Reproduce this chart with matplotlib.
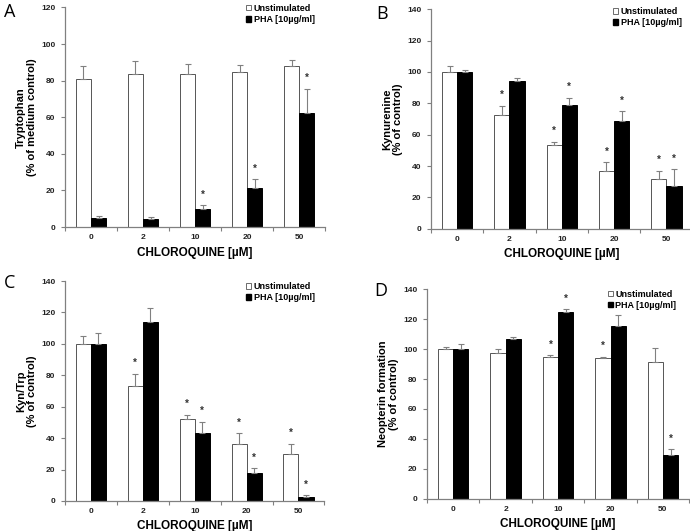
import matplotlib
matplotlib.use("Agg")
import matplotlib.pyplot as plt
import numpy as np
from matplotlib.patches import Patch

plt.rcParams['font.family'] = ['Liberation Sans', 'DejaVu Sans']

categories = ["0", "2", "10", "20", "50"]
series_names = ["Unstimulated", "PHA [10\u00b5g/ml]"]
xlabel = "CHLOROQUINE [\u00b5M]"

# Panel A
a_unstim = [81, 83.5, 83.5, 84.5, 88]
a_unstim_err = [7, 7, 5.5, 4, 3.5]
a_pha = [5, 4.5, 10, 21.5, 62.5]
a_pha_err = [1, 1.2, 2, 4.5, 13]
a_star_unstim = [False, False, False, False, False]
a_star_pha = [False, False, True, True, True]

# Panel B
b_unstim = [100, 72.5, 53.5, 36.5, 31.5]
b_unstim_err = [3.5, 6, 2, 6, 5.5]
b_pha = [100, 94, 79, 69, 27]
b_pha_err = [1.5, 2, 4.5, 6, 11]
b_star_unstim = [False, True, True, True, True]
b_star_pha = [False, False, True, True, True]

# Panel C
c_unstim = [100, 73, 52.5, 36.5, 30]
c_unstim_err = [5, 8, 2.5, 6.5, 6.5]
c_pha = [100, 114, 43.5, 17.5, 2.5]
c_pha_err = [7, 9, 7, 3.5, 1]
c_star_unstim = [False, True, True, True, True]
c_star_pha = [False, False, True, True, True]

# Panel D
d_unstim = [100, 97.5, 94.5, 94, 91.5]
d_unstim_err = [1.5, 2.5, 1.5, 1, 9]
d_pha = [100, 106.5, 125, 115.5, 29]
d_pha_err = [3.5, 1.5, 1.5, 7, 4]
d_star_unstim = [False, False, True, True, False]
d_star_pha = [False, False, True, False, True]

panels = [
    dict(letter="A", ylabel="Tryptophan\n(% of medium control)", ymax=120,
         u=a_unstim, ue=a_unstim_err, p=a_pha, pe=a_pha_err, su=a_star_unstim, sp=a_star_pha,
         rect=[0.0942, 0.5725, 0.377, 0.4135], letter_pos=(0.006, 0.995), leg=(0.468, 1.008)),
    dict(letter="B", ylabel="Kynurenine\n(% of control)", ymax=140,
         u=b_unstim, ue=b_unstim_err, p=b_pha, pe=b_pha_err, su=b_star_unstim, sp=b_star_pha,
         rect=[0.6246, 0.5693, 0.379, 0.4132], letter_pos=(0.545, 0.99), leg=(1.0, 1.002)),
    dict(letter="C", ylabel="Kyn/Trp\n(% of control)", ymax=140,
         u=c_unstim, ue=c_unstim_err, p=c_pha, pe=c_pha_err, su=c_star_unstim, sp=c_star_pha,
         rect=[0.0942, 0.0565, 0.376, 0.4143], letter_pos=(0.006, 0.484), leg=(0.468, 0.484)),
    dict(letter="D", ylabel="Neopterin formation\n(% of control)", ymax=140,
         u=d_unstim, ue=d_unstim_err, p=d_pha, pe=d_pha_err, su=d_star_unstim, sp=d_star_pha,
         rect=[0.6188, 0.0603, 0.380, 0.3954], letter_pos=(0.543, 0.468), leg=(0.992, 0.470)),
]

fig = plt.figure(figsize=(6.9, 5.31), dpi=100)
gray = "#808080"
w = 0.29
x = np.arange(len(categories))

for pn in panels:
    ax = fig.add_axes(pn["rect"])
    ek = dict(ecolor=gray, elinewidth=0.8, capsize=2, capthick=0.8)
    ax.bar(x - w / 2, pn["u"], w, color="white", edgecolor="#555555", linewidth=0.7,
           yerr=[np.zeros(len(x)), pn["ue"]], error_kw=ek, label=series_names[0])
    ax.bar(x + w / 2, pn["p"], w, color="black", edgecolor="black", linewidth=0.7,
           yerr=[np.zeros(len(x)), pn["pe"]], error_kw=ek, label=series_names[1])
    for i in range(len(x)):
        if pn["su"][i]:
            ax.annotate("*", (x[i] - w / 2, pn["u"][i] + pn["ue"][i]), xytext=(0, 4),
                        textcoords="offset points", ha="center", va="bottom",
                        fontsize=7, fontweight="bold", color="#333333")
        if pn["sp"][i]:
            ax.annotate("*", (x[i] + w / 2, pn["p"][i] + pn["pe"][i]), xytext=(0, 4),
                        textcoords="offset points", ha="center", va="bottom",
                        fontsize=7, fontweight="bold", color="#333333")
    ax.set_xlim(-0.5, len(x) - 0.5)
    ax.set_ylim(0, pn["ymax"])
    ax.set_yticks(np.arange(0, pn["ymax"] + 1, 20))
    ax.set_xticks(np.arange(-0.5, len(x) + 0.5, 1.0))
    ax.set_xticklabels([])
    ax.set_xticks(x, minor=True)
    ax.set_xticklabels(categories, minor=True)
    ax.tick_params(axis="x", which="minor", length=0, pad=5, labelsize=6)
    ax.tick_params(axis="x", which="major", length=3, color=gray, width=0.8)
    ax.tick_params(axis="y", length=3, color=gray, width=0.8, labelsize=6, pad=4)
    for lab in ax.get_xticklabels(minor=True) + ax.get_yticklabels():
        lab.set_fontweight("bold")
        lab.set_color("#222222")
    for s in ["top", "right"]:
        ax.spines[s].set_visible(False)
    for s in ["left", "bottom"]:
        ax.spines[s].set_color(gray)
        ax.spines[s].set_linewidth(0.9)
    ax.set_ylabel(pn["ylabel"], fontsize=8, fontweight="bold", labelpad=3, linespacing=1.1)
    ax.set_xlabel(xlabel, fontsize=8.5, fontweight="bold", labelpad=4)
    handles = [Patch(facecolor="white", edgecolor="#555555", linewidth=0.6),
               Patch(facecolor="black", edgecolor="black")]
    fig.legend(handles, series_names, loc="upper right", bbox_to_anchor=pn["leg"],
               frameon=False, handlelength=0.55, handleheight=0.55, handletextpad=0.3,
               labelspacing=0.25, prop=dict(size=6.5, weight="bold"))
    fig.text(pn["letter_pos"][0], pn["letter_pos"][1], pn["letter"], fontsize=13,
             family=["Open Sans", "DejaVu Sans"], va="top", ha="left")

fig.savefig("out.png", dpi=100)
